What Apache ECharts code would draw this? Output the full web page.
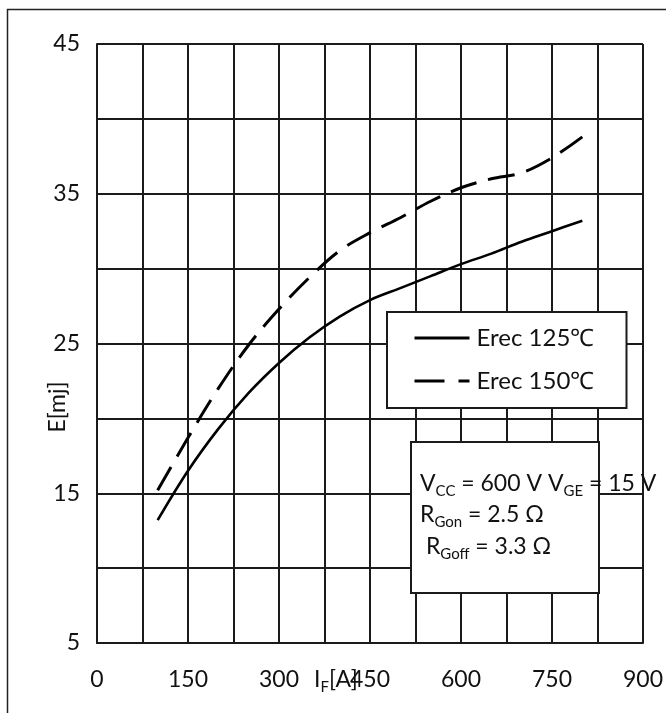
<!DOCTYPE html>
<html>
<head>
<meta charset="utf-8">
<script src="https://cdn.jsdelivr.net/npm/echarts@6/dist/echarts.min.js"></script>
<style>
  html, body { margin: 0; padding: 0; background: #fff; }
  #chart { width: 666px; height: 713px; }
</style>
</head>
<body>
<div id="chart"></div>
<script>
// Reverse-recovery energy vs. forward current
const currentA = [100, 150, 200, 250, 300, 350, 400, 450, 500, 550, 600, 650, 700, 750, 800];
const erec125 = [13.2, 16.5, 19.3, 21.7, 23.7, 25.4, 26.8, 27.9, 28.7, 29.5, 30.3, 31.0, 31.8, 32.5, 33.2];
const erec150 = [15.2, 18.7, 22.0, 24.9, 27.3, 29.4, 31.2, 32.4, 33.4, 34.5, 35.4, 36.0, 36.4, 37.4, 38.8];
const seriesNames = ['Erec 125\u2103', 'Erec 150\u2103'];
const xLabelStep = 150;
const yLabelStep = 10;

const FONT = 'Lato';
const INK = '#111';

function pairs(xs, ys) { return xs.map((x, i) => [x, ys[i]]); }

const chart = echarts.init(document.getElementById('chart'), null, { renderer: 'canvas' });

const gridLine = { show: true, lineStyle: { color: '#1b1b1b', width: 2 } };
const subStyle = { fontFamily: FONT, fontSize: 15, lineHeight: 16, verticalAlign: 'bottom', fill: INK };

chart.setOption({
  animation: false,
  backgroundColor: '#fff',
  grid: { left: 97, right: 22, top: 44, bottom: 70, containLabel: false },
  xAxis: {
    type: 'value', min: 0, max: 900, interval: 75,
    axisLine: { show: true, lineStyle: { color: '#1b1b1b', width: 2 } },
    axisTick: { show: false },
    splitLine: gridLine,
    axisLabel: {
      margin: 25, color: INK, fontFamily: FONT, fontSize: 23,
      formatter: v => (v % xLabelStep === 0 ? String(v) : '')
    }
  },
  yAxis: {
    type: 'value', min: 5, max: 45, interval: 5,
    axisLine: { show: true, lineStyle: { color: '#1b1b1b', width: 2 } },
    axisTick: { show: false },
    splitLine: gridLine,
    axisLabel: {
      margin: 17, color: INK, fontFamily: FONT, fontSize: 23,
      formatter: v => ((v - 5) % yLabelStep === 0 ? String(v) : '')
    }
  },
  legend: {
    show: true,
    orient: 'vertical',
    left: 387, top: 312,
    padding: [11, 24, 12, 26],
    itemGap: 13,
    itemWidth: 55, itemHeight: 14,
    backgroundColor: '#fff',
    borderColor: '#1b1b1b', borderWidth: 2,
    itemStyle: { opacity: 0 },
    lineStyle: { width: 3, color: '#000' },
    textStyle: { color: INK, fontFamily: FONT, fontSize: 24, lineHeight: 30, width: 126, padding: [0, 0, 0, 2] },
    data: [
      { name: seriesNames[0], lineStyle: { type: 'solid' } },
      { name: seriesNames[1], lineStyle: { type: [30, 14] } }
    ]
  },
  series: [
    {
      name: seriesNames[0], type: 'line', smooth: 0.35, symbol: 'none',
      lineStyle: { color: '#000', width: 2.6 },
      itemStyle: { color: '#000' },
      data: pairs(currentA, erec125), z: 3
    },
    {
      name: seriesNames[1], type: 'line', smooth: 0.35, symbol: 'none',
      lineStyle: { color: '#000', width: 3, type: [27, 12], cap: 'butt' },
      itemStyle: { color: '#000' },
      data: pairs(currentA, erec150), z: 3
    }
  ],
  graphic: [
    {
      type: 'rect', silent: true, z: -1,
      shape: { x: 7.5, y: 9.5, width: 900, height: 900 },
      style: { fill: 'none', stroke: '#222', lineWidth: 1.5 }
    },
    {
      type: 'rect', silent: true, z: 10,
      shape: { x: 411, y: 442, width: 188, height: 151 },
      style: { fill: '#fff', stroke: '#1b1b1b', lineWidth: 2 }
    },
    {
      type: 'text', z: 11, x: 420, y: 484,
      style: {
        text: 'V{s|CC} = 600 V V{s|GE} = 15 V',
        verticalAlign: 'middle', align: 'left',
        fontFamily: FONT, fontSize: 23, lineHeight: 30, fill: INK,
        rich: { s: subStyle }
      }
    },
    {
      type: 'text', z: 11, x: 420, y: 515,
      style: {
        text: 'R{s|Gon} = 2.5 \u03A9',
        verticalAlign: 'middle', align: 'left',
        fontFamily: FONT, fontSize: 23, lineHeight: 30, fill: INK,
        rich: { s: subStyle }
      }
    },
    {
      type: 'text', z: 11, x: 420, y: 547,
      style: {
        text: ' R{s|Goff} = 3.3 \u03A9',
        verticalAlign: 'middle', align: 'left',
        fontFamily: FONT, fontSize: 23, lineHeight: 30, fill: INK,
        rich: { s: subStyle }
      }
    },
    {
      type: 'text', z: 11, x: 314, y: 680,
      style: {
        text: 'I{s|F}[A]',
        verticalAlign: 'middle', align: 'left',
        fontFamily: FONT, fontSize: 23, lineHeight: 30, fill: INK,
        rich: { s: subStyle }
      }
    },
    {
      type: 'text', z: 11, x: 58, y: 407, rotation: Math.PI / 2,
      style: {
        text: 'E[mj]',
        verticalAlign: 'middle', align: 'center',
        fontFamily: FONT, fontSize: 23, fill: INK
      }
    }
  ]
});
</script>
</body>
</html>
